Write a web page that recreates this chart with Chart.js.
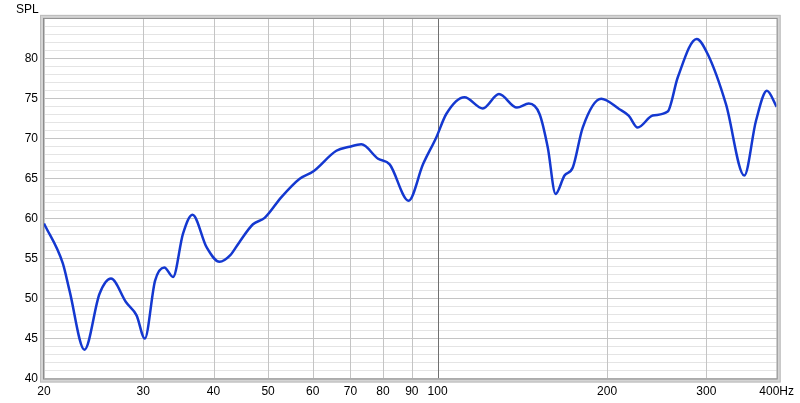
<!DOCTYPE html>
<html>
<head>
<meta charset="utf-8">
<script src="https://cdn.jsdelivr.net/npm/chart.js@4/dist/chart.umd.min.js"></script>
<style>
  html, body { margin: 0; padding: 0; background: #fff; }
  #wrap { width: 800px; height: 403px; }
</style>
</head>
<body>
<div id="wrap"><canvas id="chart" width="800" height="403"></canvas></div>
<script>
// frequency response (Hz / dB SPL)
let freqs = [20, 21.6, 22.2, 23.6, 25.1, 26.3, 28.0, 29.2, 30.2, 31.5, 32.7, 33.9, 35.3, 36.7,
  38.9, 41.0, 42.8, 44.4, 47.0, 49.3, 52.8, 56.9, 60.1, 66.1, 69.8, 73.2, 78.4, 82.2, 88.8,
  94.2, 99.5, 103.6, 111.6, 120.3, 128.5, 138.3, 145.2, 151.7, 156.9, 162.0, 168.0, 173.8,
  181.0, 195.2, 210.3, 218.4, 226.6, 240.9, 256.2, 267.0, 288.4, 301.7, 325.2, 350.4, 367.6,
  384.4, 400];
let spl = [59.4, 54.4, 51.0, 43.6, 50.6, 52.5, 49.5, 47.9, 45.0, 52.25, 53.9, 52.7, 58.1, 60.5,
  56.4, 54.6, 55.4, 57.0, 59.3, 60.1, 62.7, 65.0, 65.9, 68.5, 69.0, 69.3, 67.5, 66.8, 62.25,
  66.8, 70.2, 73.1, 75.2, 73.8, 75.6, 73.9, 74.4, 73.1, 68.9, 63.1, 65.4, 66.4,
  71.4, 75.0, 73.7, 72.9, 71.4, 72.9, 73.4, 77.7, 82.5, 80.6, 74.3, 65.4, 72.25,
  76.0, 74.0];

let xTicks = [20, 30, 40, 50, 60, 70, 80, 90, 100, 200, 300, 400];
let yMin = 40;
let yMax = 85;

let points = freqs.map(function(f, i) {
  return { x: f, y: spl[i] };
});

let fontFamily = "Liberation Sans, Arial, sans-serif";

// vertical grid over the horizontal one, then a bevelled frame round the plot
let framePlugin = {
  id: "frame",
  beforeDatasetsDraw: function(chart) {
    let ctx = chart.ctx;
    let a = chart.chartArea;
    let xs = chart.scales.x;
    ctx.save();
    ctx.lineWidth = 1;
    xTicks.forEach(function(v) {
      let px = Math.round(xs.getPixelForValue(v)) + 0.5;
      ctx.strokeStyle = v === 100 ? "#707070" : "#c4c4c4";
      ctx.beginPath();
      ctx.moveTo(px, a.top);
      ctx.lineTo(px, a.bottom);
      ctx.stroke();
    });
    ctx.restore();
  },
  afterDraw: function(chart) {
    let ctx = chart.ctx;
    let a = chart.chartArea;
    ctx.save();
    ctx.lineWidth = 4;
    ctx.strokeStyle = "#d4d4d4";
    ctx.strokeRect(a.left - 2, a.top - 2, a.right - a.left + 4, a.bottom - a.top + 4);
    ctx.lineWidth = 1;
    ctx.strokeStyle = "#bcbcbc";
    ctx.strokeRect(a.left - 3.5, a.top - 3.5, a.right - a.left + 7, a.bottom - a.top + 7);
    ctx.strokeStyle = "#8c8c8c";
    ctx.strokeRect(a.left - 0.5, a.top - 0.5, a.right - a.left + 1, a.bottom - a.top + 1);
    ctx.restore();
  }
};

let chart = new Chart(document.getElementById("chart"), {
  type: "line",
  data: {
    datasets: [{
      data: points,
      borderColor: "#1438d0",
      borderWidth: 2.5,
      pointRadius: 0,
      fill: false,
      cubicInterpolationMode: "monotone"
    }]
  },
  options: {
    responsive: false,
    animation: false,
    layout: {
      padding: { left: 16, right: 22, top: 2, bottom: 0 }
    },
    plugins: {
      legend: { display: false },
      tooltip: { enabled: false },
      title: {
        display: true,
        text: "SPL",
        align: "start",
        color: "#000",
        font: { family: fontFamily, size: 12, weight: "normal" },
        padding: { top: 0, bottom: 2.5 }
      }
    },
    scales: {
      x: {
        type: "logarithmic",
        min: 20,
        max: 400,
        afterBuildTicks: function(scale) {
          scale.ticks = xTicks.map(function(v) { return { value: v }; });
        },
        afterFit: function(scale) {
          scale.height = 24.5;
        },
        border: { display: false },
        grid: {
          display: false,
          drawTicks: false
        },
        ticks: {
          autoSkip: false,
          maxRotation: 0,
          padding: 6,
          color: "#000",
          font: { family: fontFamily, size: 12 },
          callback: function(v) {
            return v === 400 ? "400Hz" : String(v);
          }
        }
      },
      y: {
        min: yMin,
        max: yMax,
        afterBuildTicks: function(scale) {
          let t = [];
          for (let v = yMin; v <= yMax; v++) t.push({ value: v });
          scale.ticks = t;
        },
        afterFit: function(scale) {
          scale.width = 28;
        },
        border: { display: false },
        grid: {
          drawTicks: false,
          color: function(c) {
            return c.tick && c.tick.value % 5 === 0 ? "#c4c4c4" : "#e4e4e4";
          }
        },
        ticks: {
          autoSkip: false,
          padding: 6,
          color: "#000",
          font: { family: fontFamily, size: 12 },
          callback: function(v) {
            return v % 5 === 0 && v < 85 ? String(v) : "";
          }
        }
      }
    }
  },
  plugins: [framePlugin]
});
</script>
</body>
</html>
